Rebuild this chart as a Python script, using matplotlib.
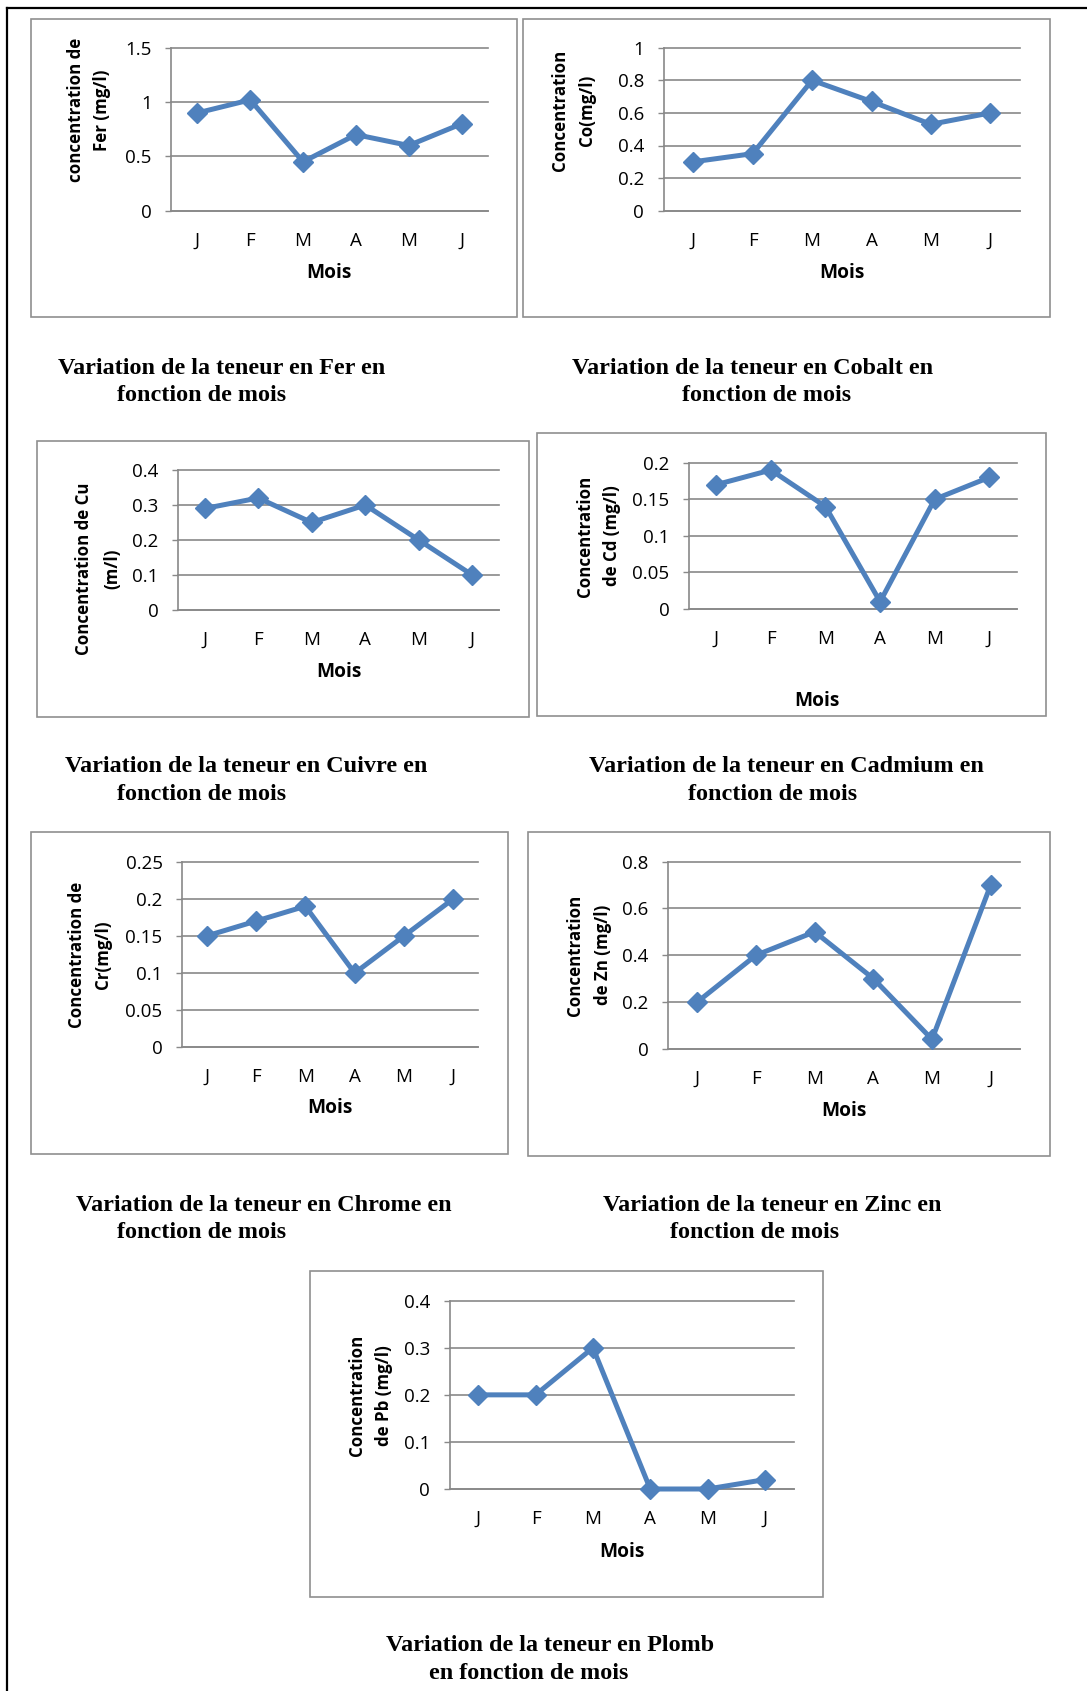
import matplotlib
matplotlib.use("Agg")
import matplotlib.pyplot as plt
from matplotlib.patches import Rectangle
from matplotlib.lines import Line2D

# ---------------- data ----------------
months = ["J", "F", "M", "A", "M", "J"]

fer = [0.90, 1.02, 0.45, 0.70, 0.60, 0.80]
cobalt = [0.30, 0.35, 0.80, 0.67, 0.53, 0.60]
cuivre = [0.29, 0.32, 0.25, 0.30, 0.20, 0.10]
cadmium = [0.17, 0.19, 0.14, 0.01, 0.15, 0.18]
chrome = [0.15, 0.17, 0.19, 0.10, 0.15, 0.20]
zinc = [0.20, 0.40, 0.50, 0.30, 0.04, 0.70]
plomb = [0.20, 0.20, 0.30, 0.00, 0.00, 0.02]

ticks_fer = [0, 0.5, 1, 1.5]
ticks_cobalt = [0, 0.2, 0.4, 0.6, 0.8, 1]
ticks_cuivre = [0, 0.1, 0.2, 0.3, 0.4]
ticks_cadmium = [0, 0.05, 0.1, 0.15, 0.2]
ticks_chrome = [0, 0.05, 0.1, 0.15, 0.2, 0.25]
ticks_zinc = [0, 0.2, 0.4, 0.6, 0.8]
ticks_plomb = [0, 0.1, 0.2, 0.3, 0.4]

ylabels = [
    ("concentration de", "Fer (mg/l)"),
    ("Concentration", "Co(mg/l)"),
    ("Concentration de Cu", "(m/l)"),
    ("Concentration", "de Cd (mg/l)"),
    ("Concentration de", "Cr(mg/l)"),
    ("Concentration", "de Zn (mg/l)"),
    ("Concentration", "de Pb (mg/l)"),
]
titles = [
    ("Variation de la teneur en Fer en", "fonction de mois"),
    ("Variation de la teneur en Cobalt en", "fonction de mois"),
    ("Variation de la teneur en Cuivre en", "fonction de mois"),
    ("Variation de la teneur en Cadmium en", "fonction de mois"),
    ("Variation de la teneur en Chrome en", "fonction de mois"),
    ("Variation de la teneur en Zinc en", "fonction de mois"),
    ("Variation de la teneur en Plomb", "en fonction de mois"),
]
xlabel = "Mois"

series = [fer, cobalt, cuivre, cadmium, chrome, zinc, plomb]
yticks = [ticks_fer, ticks_cobalt, ticks_cuivre, ticks_cadmium,
          ticks_chrome, ticks_zinc, ticks_plomb]

# ---------------- layout (pixels) ----------------
W, H = 1087, 1691
layout = [
    dict(box=(31, 19, 517, 317), plot=(171, 47.7, 488, 210.7), ylab=(76, 102, 110),
         mois=(329, 273), title=((58, 368.5), (117, 395.5))),
    dict(box=(523, 19, 1050, 317), plot=(663.6, 47.7, 1020, 210.7), ylab=(560.5, 587, 110),
         mois=(842, 273), title=((572, 368.5), (682, 395.5))),
    dict(box=(37, 441, 529, 717), plot=(178, 470, 499, 610), ylab=(84, 112, 569),
         mois=(338.5, 671.7), title=((65, 766.5), (117, 794.5))),
    dict(box=(537, 433, 1046, 716), plot=(689, 462.7, 1016.6, 609), ylab=(585, 612, 536),
         mois=(817, 700.7), title=((589, 766.5), (688, 794.5))),
    dict(box=(31, 832, 508, 1154), plot=(182, 861.7, 478, 1047.3), ylab=(77.5, 103, 955),
         mois=(330, 1108.3), title=((76, 1205.5), (117, 1232.5))),
    dict(box=(528, 832, 1050, 1156), plot=(668, 861.7, 1020, 1048.7), ylab=(575, 603, 955),
         mois=(844, 1110.7), title=((603, 1205.5), (670, 1232.5))),
    dict(box=(309.6, 1271, 823, 1596.7), plot=(449.6, 1300.7, 793.6, 1489), ylab=(356.8, 383.6, 1395.5),
         mois=(621.5, 1551.7), title=((386, 1645.5), (429, 1673.5))),
]

LINE_BLUE = "#4F81BD"
GRID = "#898989"
BOX = "#8F8F8F"
SANS = ["Open Sans", "DejaVu Sans"]
SERIF = ["Liberation Serif", "DejaVu Serif"]


def fx(x):
    return x / W


def fy(y):
    return 1 - y / H


fig = plt.figure(figsize=(W / 100, H / 100), dpi=100)

# outer page frame (top and left edges)
fig.add_artist(Line2D([fx(6.5), fx(1087)], [fy(7.5), fy(7.5)], color="black", lw=1.6))
fig.add_artist(Line2D([fx(6.5), fx(6.5)], [fy(7.5), fy(1691)], color="black", lw=1.6))


def fmt(v):
    return "%g" % v


for vals, ticks, ylab, ttl, lay in zip(series, yticks, ylabels, titles, layout):
    bx0, by0, bx1, by1 = lay["box"]
    fig.add_artist(Rectangle((fx(bx0), fy(by1)), (bx1 - bx0) / W, (by1 - by0) / H,
                             fill=False, edgecolor=BOX, lw=1.2))
    px0, py0, px1, py1 = lay["plot"]
    ax = fig.add_axes([fx(px0), fy(py1), (px1 - px0) / W, (py1 - py0) / H])
    x = list(range(len(months)))
    ax.plot(x, vals, color=LINE_BLUE, lw=3.6, marker="D", ms=10.0,
            markerfacecolor=LINE_BLUE, markeredgecolor=LINE_BLUE, clip_on=False, zorder=3)
    ax.set_xlim(-0.5, len(months) - 0.5)
    ax.set_ylim(ticks[0], ticks[-1])
    ax.set_yticks(ticks)
    ax.set_yticklabels([fmt(t) for t in ticks], fontfamily=SANS, fontsize=13.5)
    ax.set_xticks(x)
    ax.set_xticklabels(months, fontfamily=SANS, fontsize=13.5)
    ax.tick_params(axis="y", length=4.5, width=1.0, color=GRID, pad=9.5)
    ax.tick_params(axis="x", length=0, pad=15)
    ax.grid(axis="y", color=GRID, lw=1.2)
    for gl in ax.get_ygridlines():
        gl.set_clip_on(False)
    ax.set_axisbelow(True)
    for s in ("top", "right"):
        ax.spines[s].set_visible(False)
    ax.spines["left"].set_color(GRID)
    ax.spines["bottom"].set_color(GRID)
    ax.spines["left"].set_linewidth(1.2)
    ax.spines["bottom"].set_linewidth(1.2)
    ax.patch.set_alpha(0)

    x1c, x2c, yc = lay["ylab"]
    fig.text(fx(x1c), fy(yc), ylab[0], rotation=90, ha="center", va="center",
             fontfamily=SANS, fontweight="bold", fontsize=12.2)
    fig.text(fx(x2c), fy(yc), ylab[1], rotation=90, ha="center", va="center",
             fontfamily=SANS, fontweight="bold", fontsize=12.2)
    mx, my = lay["mois"]
    fig.text(fx(mx), fy(my), xlabel, ha="center", va="center",
             fontfamily=SANS, fontweight="bold", fontsize=13.8)
    for (tx, ty), line in zip(lay["title"], ttl):
        fig.text(fx(tx), fy(ty), line, ha="left", va="center",
                 fontfamily=SERIF, fontweight="bold", fontsize=17.4)

fig.savefig("out.png", dpi=100, facecolor="white")
